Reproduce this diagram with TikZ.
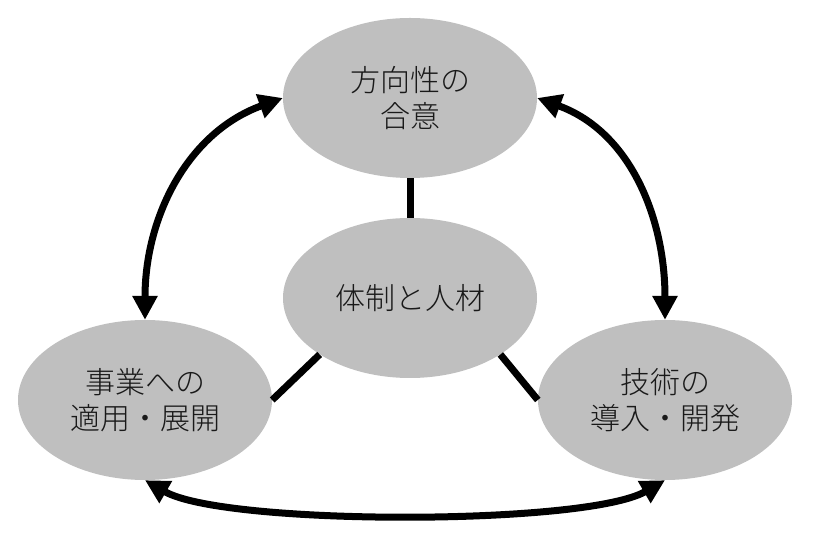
\documentclass[tikz,border=0pt]{standalone}
\usepackage{fontspec}
\newfontfamily\jpfont{Noto Sans CJK JP Light}
\usetikzlibrary{shapes.geometric,arrows.meta}
\begin{document}
\begin{tikzpicture}[
  x=1pt, y=1pt,
  enode/.style={ellipse, fill=black!25, minimum width=254pt, minimum height=160pt,
    inner sep=0pt, align=center, font=\jpfont\fontsize{30}{36}\selectfont, text=black!90},
  link/.style={line width=7pt},
  cycle/.style={line width=7pt, {Triangle[length=24pt,width=24pt]}-{Triangle[length=24pt,width=24pt]}}
]
  \useasboundingbox (0,0) rectangle (830,535);

  % Uzly
  \node[enode] (top) at (410, 437) {方向性の\\合意};
  \node[enode] (mid) at (410, 237) {体制と人材};
  \node[enode] (left) at (145, 135) {事業への\\適用・展開};
  \node[enode] (right) at (665, 135) {技術の\\導入・開発};

  % Spojky se středem
  \draw[link] (mid.north) -- (top.south);
  \draw[link] (mid.212) -- (left.east);
  \draw[link] (mid.328) -- (right.west);

  % Obousměrné šipky
  \draw[cycle] (top.west) to[out=200, in=90] (left.north);
  \draw[cycle] (top.east) to[out=-20, in=90] (right.north);
  \draw[cycle] (left.south) to[out=-30, in=210, looseness=0.45] (right.south);
\end{tikzpicture}
\end{document}
